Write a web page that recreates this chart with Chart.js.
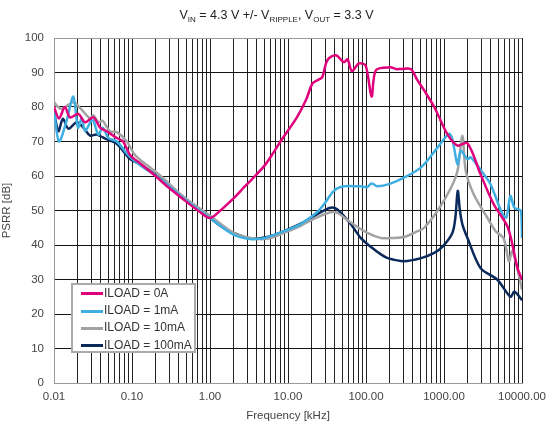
<!DOCTYPE html>
<html>
<head>
<meta charset="utf-8">
<script src="https://cdn.jsdelivr.net/npm/chart.js@4/dist/chart.umd.min.js"></script>
<style>
  body { margin: 0; background: #fff; font-family: "Liberation Sans", Arial, sans-serif; }
  #wrap { position: relative; width: 547px; height: 423px; }
  #title { position: absolute; left: 3px; top: 8px; width: 547px; text-align: center; font-size: 12.5px; color: #222; }
  #title sub { font-size: 8px; vertical-align: -3px; }
  #legend { position: absolute; left: 71px; top: 283px; width: 121px; height: 66px; border: 2px solid #aaa; background: #fff; padding: 0; }
  .item { position: absolute; left: 8px; height: 17px; font-size: 12px; color: #333; white-space: nowrap; }
  .item span.ln { display: inline-block; width: 22px; height: 3px; vertical-align: middle; margin-right: 1px; }
</style>
</head>
<body>
<div id="wrap">
  <canvas id="c" width="547" height="423"></canvas>
  <div id="title">V<sub>IN</sub> = 4.3 V +/- V<sub>RIPPLE</sub>, V<sub>OUT</sub> = 3.3 V</div>
  <div id="legend"></div>
</div>
<script>
const $ = id => document.getElementById(id);

// frequency in kHz, PSRR in dB
const f0A = [0.01, 0.0116, 0.0138, 0.016, 0.0205, 0.025, 0.032, 0.039, 0.047, 0.064, 0.077, 0.095, 0.13, 0.2, 0.3, 0.5, 0.75, 1.0, 1.36, 2, 2.7, 3.3, 5, 6.6, 8, 13, 17, 20.6, 25, 27.6, 32, 41, 52, 58, 66, 81, 99, 118, 134, 206, 240, 278, 375, 450, 557, 750, 1100, 1490, 2000, 2940, 4340, 6600, 8750, 10000];
const db0A = [80, 76.7, 80, 77, 78, 75.6, 77, 74, 73, 71, 70, 66, 63.5, 60, 56.5, 52.5, 49.5, 47.8, 50, 53.5, 56.6, 58.6, 63, 67, 70, 77, 82, 86.8, 88, 88.7, 93.6, 95, 93, 93.8, 90.4, 92.6, 92, 83, 90.7, 91.5, 91, 91, 91, 88, 84.8, 80, 72.2, 68.8, 69.5, 60.5, 51.8, 45, 33.3, 30];

const f1mA = [0.01, 0.0116, 0.0145, 0.0177, 0.0203, 0.0227, 0.025, 0.03, 0.032, 0.037, 0.042, 0.05, 0.064, 0.09, 0.13, 0.22, 0.46, 1.0, 2, 3.3, 4.5, 5.4, 8.9, 14.3, 23.5, 29, 38.7, 52, 85, 104, 116, 126, 140, 206, 306, 508, 830, 1160, 1280, 1490, 1640, 2000, 2200, 3240, 3950, 5630, 6300, 7100, 8000, 9700, 10000];
const db1mA = [79, 70, 76, 83, 74, 76.7, 73, 76, 76, 72, 74, 71, 70, 66, 63, 59.5, 53.5, 47.8, 43, 41.7, 41.8, 42.2, 44, 46, 49.5, 51.8, 55.7, 57, 57, 56.8, 57.8, 57.6, 57, 57.8, 59.5, 62.5, 68.3, 72.2, 70.7, 63.4, 67.3, 64.9, 65.4, 60.5, 57.6, 48.9, 48, 54.2, 50.8, 49.9, 42];

const f10mA = [0.01, 0.012, 0.014, 0.0177, 0.022, 0.029, 0.032, 0.037, 0.042, 0.052, 0.064, 0.086, 0.11, 0.22, 0.46, 1.0, 2, 3.3, 5.4, 8.9, 14.3, 23.5, 35, 43, 64, 104, 157, 206, 306, 460, 557, 830, 1230, 1490, 1720, 1900, 2400, 3600, 4600, 5800, 6800, 7500, 9300, 10000];
const db10mA = [81.4, 79.5, 80, 81.4, 79.5, 76.7, 77.6, 75.6, 76, 73, 72.7, 70, 66, 60.5, 54, 48.5, 43.5, 42, 41.8, 43.5, 45.5, 48, 49.5, 49.3, 46.5, 43.5, 42, 42, 42.3, 44, 45, 50, 56.6, 61.5, 71.7, 61.5, 54.7, 47.9, 44, 42, 35.3, 38.2, 30.4, 27];

const f100mA = [0.01, 0.0114, 0.013, 0.0153, 0.0196, 0.0238, 0.029, 0.035, 0.047, 0.064, 0.086, 0.095, 0.127, 0.21, 0.46, 1.0, 1.36, 2, 3.3, 5.4, 8.9, 14.3, 23.5, 35, 43, 64, 86, 116, 157, 190, 306, 508, 750, 965, 1280, 1400, 1500, 1600, 1720, 2000, 2940, 4800, 7100, 8000, 10000];
const db100mA = [78.5, 73, 76.6, 73.7, 75.6, 74, 71.7, 72, 70.7, 69.3, 65.9, 64.9, 63.4, 60, 53.7, 47.9, 45.5, 43.5, 41.9, 42.3, 44, 46.1, 48.9, 50.8, 50.3, 46, 42, 39.4, 37.2, 36.2, 35.3, 36.2, 37.7, 39.6, 43.5, 48, 55.7, 50, 46, 42, 33.3, 30, 25, 26.5, 24];

const seriesNames = ["ILOAD = 0A", "ILOAD = 1mA", "ILOAD = 10mA", "ILOAD = 100mA"];
const seriesColors = ["#e0007b", "#3fafe2", "#a3a3a3", "#0b2a5c"];
const xDecades = [0.01, 0.1, 1, 10, 100, 1000, 10000];
const xTickLabels = ["0.01", "0.10", "1.00", "10.00", "100.00", "1000.00", "10000.00"];

const pts = (f, d) => f.map((x, i) => ({ x, y: d[i] }));
const series = [pts(f0A, db0A), pts(f1mA, db1mA), pts(f10mA, db10mA), pts(f100mA, db100mA)];

// gridline positions: 1..9 x each decade, label only on the decades
const xTicks = [];
xDecades.forEach((d, i) => {
  if (i === xDecades.length - 1) { xTicks.push({ value: d, label: xTickLabels[i] }); return; }
  for (let k = 1; k <= 9; k++) xTicks.push({ value: d * k, label: k === 1 ? xTickLabels[i] : "" });
});

const font = { family: "'Liberation Sans', Arial, sans-serif", size: 11.5 };

new Chart($("c"), {
  type: "line",
  data: {
    datasets: series.map((data, i) => ({
      label: seriesNames[i],
      data,
      borderColor: seriesColors[i],
      backgroundColor: seriesColors[i],
      borderWidth: 2.5,
      pointRadius: 0,
      tension: 0.3,
    })),
  },
  options: {
    responsive: false,
    animation: false,
    layout: { padding: { top: 38, right: 25, left: 0, bottom: 0 } },
    plugins: { legend: { display: false }, tooltip: { enabled: false } },
    scales: {
      x: {
        type: "logarithmic",
        min: 0.01, max: 10000,
        afterBuildTicks: s => { s.ticks = xTicks.map(t => ({ value: t.value })); },
        afterFit: s => { s.height = 40; s.paddingRight = 0; s.paddingLeft = 0; },
        ticks: {
          autoSkip: false, maxRotation: 0, padding: 7, color: "#444", font,
          callback: (v, i) => xTicks[i] ? xTicks[i].label : "",
        },
        grid: { color: "#222", lineWidth: 1, drawTicks: false },
        border: { color: "#999" },
        title: { display: true, text: "Frequency [kHz]", color: "#444", font, padding: { top: 1, bottom: 0 } },
      },
      y: {
        min: 0, max: 100,
        afterFit: s => { s.width = 54; },
        ticks: { stepSize: 10, padding: 10, color: "#444", font },
        grid: { color: c => c.tick && c.tick.value === 100 ? "#999" : "#111", lineWidth: 1, drawTicks: false },
        border: { color: "#999" },
        title: { display: true, text: "PSRR [dB]", color: "#444", font, padding: { top: 0, bottom: 4 } },
      },
    },
  },
});

// legend box inside the plot
const lg = $("legend");
seriesNames.forEach((n, i) => {
  const it = document.createElement("div");
  it.className = "item";
  it.style.top = (1 + i * 17.2) + "px";
  it.innerHTML = `<span class="ln" style="background:${seriesColors[i]}"></span>${n}`;
  lg.appendChild(it);
});
</script>
</body>
</html>
